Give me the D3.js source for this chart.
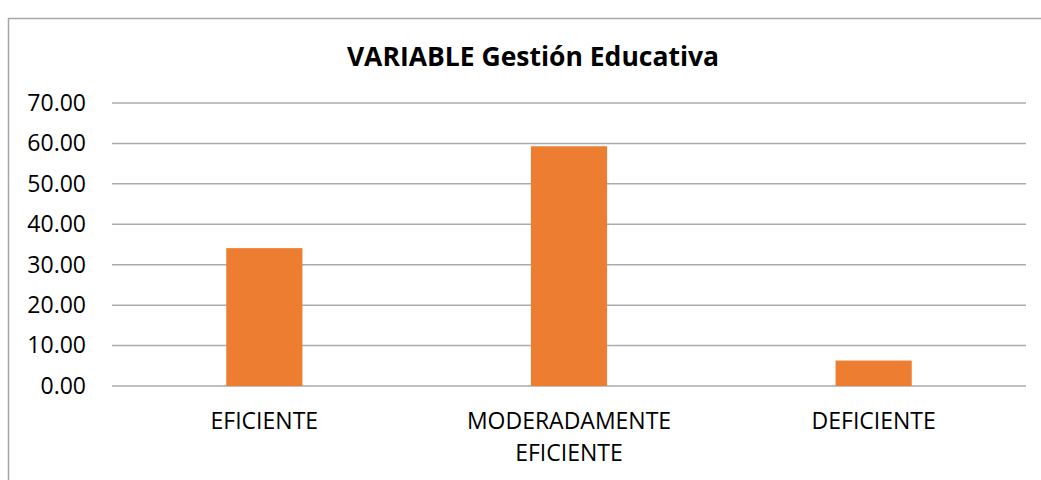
<!DOCTYPE html>
<html>
<head>
<meta charset="utf-8">
<script src="https://cdn.jsdelivr.net/npm/d3@7/dist/d3.min.js"></script>
<style>
  html, body { margin: 0; padding: 0; background: #fff; }
  svg { display: block; }
  text { font-family: "Open Sans", sans-serif; fill: #000; }
</style>
</head>
<body>
<svg id="chart" width="1041" height="480"></svg>
<script>
const title = "VARIABLE Gestión Educativa";
const categories = [["EFICIENTE"], ["MODERADAMENTE", "EFICIENTE"], ["DEFICIENTE"]];
const values = [34.1, 59.3, 6.3];
const yTicks = [0, 10, 20, 30, 40, 50, 60, 70];

const svg = d3.select("#chart");
const W = 1041, H = 480;
const margin = { left: 112, right: 1041 - 1026, top: 103, bottom: 480 - 386 };

// outer chart border
svg.append("rect")
  .attr("x", 8.5).attr("y", 18.5)
  .attr("width", 1100).attr("height", 600)
  .attr("fill", "none").attr("stroke", "#a6a6a6").attr("stroke-width", 1.5);

const x = d3.scaleBand()
  .domain(d3.range(categories.length))
  .range([margin.left, W - margin.right])
  .paddingInner(0.75).paddingOuter(0.375);

const y = d3.scaleLinear().domain([0, 70]).range([H - margin.bottom, margin.top]);

// gridlines
svg.append("g")
  .selectAll("line").data(yTicks).join("line")
  .attr("x1", margin.left).attr("x2", W - margin.right)
  .attr("y1", d => y(d)).attr("y2", d => y(d))
  .attr("stroke", "#ababab").attr("stroke-width", 1.5);

// y axis labels
const yAxis = d3.axisLeft(y).tickValues(yTicks).tickFormat(d3.format(".2f")).tickSize(0).tickPadding(26);
const ga = svg.append("g").attr("transform", `translate(${margin.left},0)`).call(yAxis);
ga.select(".domain").remove();
ga.selectAll("text").style("font-size", "23px").style("font-family", "'Open Sans', sans-serif").attr("fill", "#000");

// bars
svg.append("g")
  .selectAll("rect").data(values).join("rect")
  .attr("x", (d, i) => x(i))
  .attr("width", x.bandwidth())
  .attr("y", d => y(d))
  .attr("height", d => y(0) - y(d))
  .attr("fill", "#ED7D31");

// category labels
const cl = svg.append("g").selectAll("text").data(categories).join("text")
  .attr("text-anchor", "middle")
  .attr("x", (d, i) => x(i) + x.bandwidth() / 2)
  .attr("y", 429)
  .style("font-size", "23px");
cl.selectAll("tspan").data(d => d).join("tspan")
  .attr("x", function () { return d3.select(this.parentNode).attr("x"); })
  .attr("dy", (d, i) => i === 0 ? 0 : 32)
  .text(d => d);

// title
svg.append("text")
  .attr("x", 533).attr("y", 66)
  .attr("text-anchor", "middle")
  .style("font-size", "26.5px").style("font-weight", "bold")
  .text(title);
</script>
</body>
</html>
